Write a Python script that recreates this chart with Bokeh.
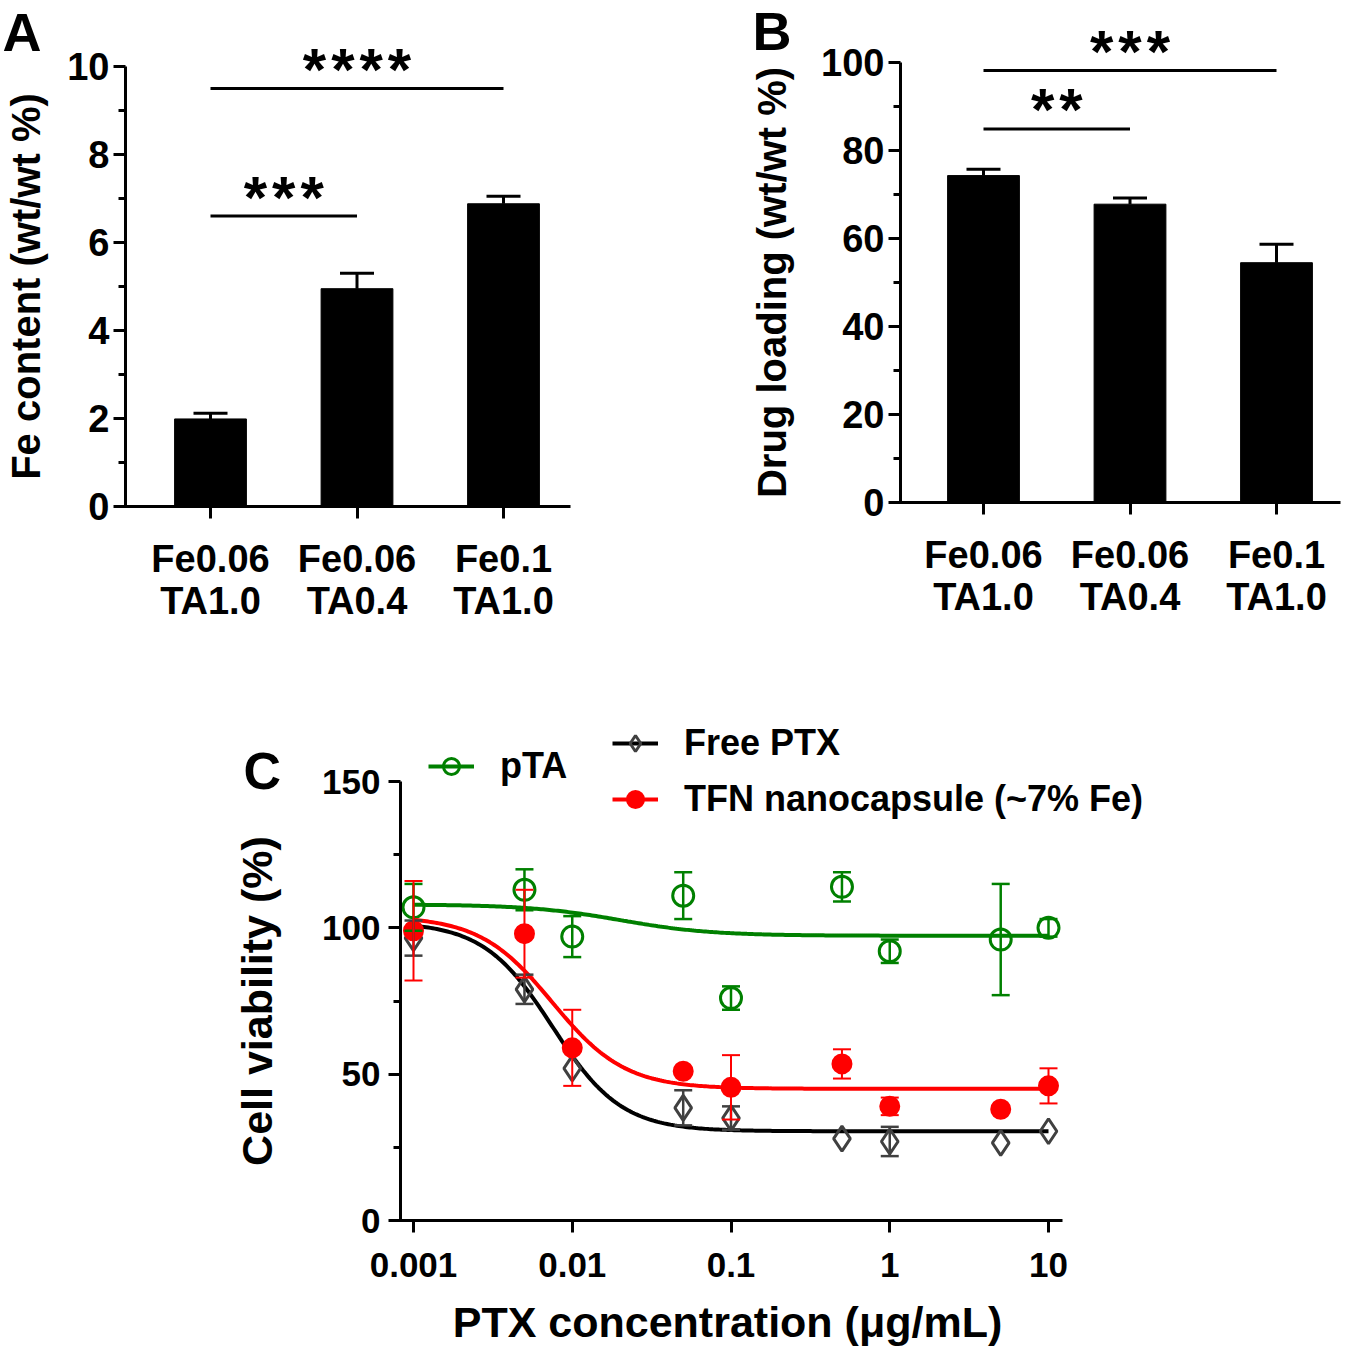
import numpy as np
from bokeh.plotting import figure
from bokeh.models import (Range1d, FixedTicker, ColumnDataSource, Whisker, TeeHead,
                          Label, Legend, LegendItem)
from bokeh.layouts import column, row
from bokeh.embed import file_html
from bokeh.resources import INLINE

FONT = "Liberation Sans"

# ---------------- data ----------------
groups = ["Fe0.06\nTA1.0", "Fe0.06\nTA0.4", "Fe0.1\nTA1.0"]
group_pos = [0, 1, 2]

fe_content = [1.99, 4.95, 6.88]
fe_content_sd = [0.13, 0.35, 0.17]
fe_sig_y = [6.60, 9.50]
fe_sig_start = [0, 0]
fe_sig_end = [1, 2]
fe_sig_text = ["***", "****"]
fe_ticks = [0, 2, 4, 6, 8, 10]
fe_minor = [1, 3, 5, 7, 9]

drug_loading = [74.3, 67.8, 54.5]
drug_loading_sd = [1.45, 1.4, 4.2]
dl_sig_y = [84.9, 98.2]
dl_sig_start = [0, 0]
dl_sig_end = [1, 2]
dl_sig_text = ["**", "***"]
dl_ticks = [0, 20, 40, 60, 80, 100]
dl_minor = [10, 30, 50, 70, 90]

ptx_conc = [0.001, 0.005, 0.01, 0.05, 0.1, 0.5, 1, 5, 10]
pta_viab = [107, 113, 97, 111, 76, 114, 92, 96, 100]
pta_sd = [8, 7, 7, 8, 4, 5, 4, 19, 3]
tfn_viab = [99, 98, 59, 51, 45.5, 53.5, 39, 38, 46]
tfn_sd = [17, 15, 13, 0, 11, 5, 3, 0, 6]
free_viab = [96.5, 79, 52, 38.5, 35, 28, 27, 26.5, 30.5]
free_sd = [6, 5, 0, 6, 4, 0, 5, 0, 0]

# fitted 4-parameter logistic curves: (top, bottom, EC50, Hill slope)
pta_fit = (108, 97.3, 0.02, 1.5)
tfn_fit = (104, 45, 0.0075, 1.9)
free_fit = (102, 30.5, 0.0075, 2.0)

c_xticks = [0.001, 0.01, 0.1, 1, 10]
c_xtick_labels = ["0.001", "0.01", "0.1", "1", "10"]
c_yticks = [0, 50, 100, 150]
c_yminor = [25, 75, 125]

GREEN = "#008000"
RED = "#FF0000"
GREY = "#404040"


# ---------------- page-pixel geometry helpers (layout only) ----------------
def xA(px): return (px - 210) / 146.5
def yA(py): return (506 - py) / 44.0
def xB(px): return (px - 983) / 146.5
def yB(py): return (502 - py) / 4.4
def xC(px): return 10 ** (-3 + (px - 413) / 158.75)
def yC(py): return (1220 - py) / (439 / 150.0)


def style(p, tick_size, label_size):
    for ax in p.axis:
        ax.axis_line_width = 3
        ax.axis_line_color = "black"
        ax.major_tick_line_width = 3
        ax.minor_tick_line_width = 3
        ax.major_tick_in = 0
        ax.major_tick_out = 12
        ax.minor_tick_in = 0
        ax.minor_tick_out = 7
        ax.major_label_text_font = FONT
        ax.major_label_text_font_style = "bold"
        ax.major_label_text_font_size = tick_size
        ax.major_label_text_color = "black"
        ax.axis_label_text_font = FONT
        ax.axis_label_text_font_style = "bold"
        ax.axis_label_text_font_size = label_size
        ax.axis_label_text_color = "black"
    p.grid.visible = False
    p.outline_line_color = None
    p.background_fill_color = "white"
    p.border_fill_color = "white"


def spaced(t):
    return "\u200a".join(list(t))


def make_fig(width, height, xr, yr, **kw):
    return figure(width=width, height=height, output_backend="svg", toolbar_location=None,
                  x_range=Range1d(*xr), y_range=Range1d(*yr),
                  min_border=0, min_border_left=0, min_border_right=0,
                  min_border_top=0, min_border_bottom=0, **kw)


def bar_panel(p, fx, fy, values, sds, ticks, minor, ylabel, sig_y, sig_s, sig_e, sig_t,
              yaxis_px, xaxis_px0, xaxis_px1, ytop, title_standoff, letter, letter_px):
    p.vbar(x=group_pos, top=values, width=0.49, bottom=0, fill_color="black", line_color="black")
    src = ColumnDataSource(dict(x=group_pos, lower=values, upper=[v + s for v, s in zip(values, sds)]))
    p.add_layout(Whisker(source=src, base="x", lower="lower", upper="upper", dimension="height",
                         line_width=3, line_color="black",
                         upper_head=TeeHead(size=34, line_width=3, line_color="black"),
                         lower_head=None))
    p.segment(x0=sig_s, x1=sig_e, y0=sig_y, y1=sig_y, line_width=3, line_color="black")
    for s, e, y, t in zip(sig_s, sig_e, sig_y, sig_t):
        p.add_layout(Label(x=(s + e) / 2, y=y, text=spaced(t), text_align="center",
                           text_baseline="alphabetic", text_font=FONT, text_font_style="bold",
                           text_font_size="60px", text_color="black", y_offset=19))
    style(p, "38px", "40px")
    p.xaxis.fixed_location = 0
    p.xaxis.bounds = (fx(xaxis_px0), fx(xaxis_px1))
    p.xaxis.ticker = FixedTicker(ticks=group_pos)
    p.xaxis.major_label_overrides = {i: g for i, g in zip(group_pos, groups)}
    p.xaxis.major_label_standoff = 19
    p.xaxis.major_label_text_line_height = 1.02
    p.yaxis.fixed_location = fx(yaxis_px)
    p.yaxis.bounds = (0, ytop)
    p.yaxis.ticker = FixedTicker(ticks=ticks, minor_ticks=minor)
    p.yaxis.major_label_standoff = 4
    p.yaxis.axis_label = ylabel
    p.yaxis.axis_label_standoff = title_standoff
    p.add_layout(Label(x=fx(letter_px[0]), y=fy(letter_px[1]), text=letter,
                       text_font=FONT, text_font_style="bold", text_font_size="54px",
                       text_baseline="alphabetic", text_align="left", text_color="black"))
    return p


# ---------------- panel A : figure covers page x 0..740, y 0..648 ----------------
pA = make_fig(740, 648, (xA(0), xA(740)), (yA(648), yA(0)))
bar_panel(pA, xA, yA, fe_content, fe_content_sd, fe_ticks, fe_minor, "Fe content (wt/wt %)",
          fe_sig_y, fe_sig_start, fe_sig_end, fe_sig_text,
          125, 115, 570, 10, 16, "A", (2, 31))

# ---------------- panel B : figure covers page x 740..1344, y 0..648 ----------------
pB = make_fig(604, 648, (xB(740), xB(1344)), (yB(648), yB(0)))
bar_panel(pB, xB, yB, drug_loading, drug_loading_sd, dl_ticks, dl_minor, "Drug loading (wt/wt %)",
          dl_sig_y, dl_sig_start, dl_sig_end, dl_sig_text,
          900, 890, 1340, 100, 24, "B", (752, 30))

# ---------------- panel C : figure covers page x 0..1344, y 648..1346 ----------------
C_TOP, C_BOTTOM = 648, 1346
pC = make_fig(1344, C_BOTTOM - C_TOP, (xC(0), xC(1344)), (yC(C_BOTTOM), yC(C_TOP)),
              x_axis_type="log")

xs = np.logspace(-3, 1, 300)


def logistic(params):
    top, bottom, ec50, hill = params
    return bottom + (top - bottom) / (1 + (xs / ec50) ** hill)


series = [
    (pta_viab, pta_sd, pta_fit, GREEN, GREEN, "circle", 21, None, 2.5),
    (free_viab, free_sd, free_fit, "black", GREY, "diamond", 25, None, 2.5),
    (tfn_viab, tfn_sd, tfn_fit, RED, RED, "circle", 18, RED, 2),
]
renders = []
for vals, sds, fit, lcol, mcol, marker, size, fill, ewidth in series:
    line = pC.line(xs, logistic(fit), line_width=4, line_color=lcol)
    keep = [i for i, s in enumerate(sds) if s > 0]
    src = ColumnDataSource(dict(x=[ptx_conc[i] for i in keep],
                                lower=[vals[i] - sds[i] for i in keep],
                                upper=[vals[i] + sds[i] for i in keep]))
    pC.add_layout(Whisker(source=src, base="x", lower="lower", upper="upper", dimension="height",
                          line_width=ewidth, line_color=mcol, level="glyph",
                          upper_head=TeeHead(size=18, line_width=ewidth, line_color=mcol),
                          lower_head=TeeHead(size=18, line_width=ewidth, line_color=mcol)))
    pts = pC.scatter(ptx_conc, vals, marker=marker, size=size, line_color=mcol,
                     fill_color=fill, line_width=3)
    renders.append((line, pts))

style(pC, "35px", "43px")
pC.xaxis.fixed_location = 0
pC.xaxis.bounds = (xC(392), xC(1062))
pC.xaxis.ticker = FixedTicker(ticks=c_xticks, minor_ticks=[])
pC.xaxis.major_label_standoff = 20
pC.xaxis.major_label_overrides = {v: t for v, t in zip(c_xticks, c_xtick_labels)}
pC.xaxis.axis_label = "PTX concentration (\u03bcg/mL)"
pC.xaxis.axis_label_standoff = 18
pC.yaxis.fixed_location = xC(400)
pC.yaxis.bounds = (0, 150)
pC.yaxis.ticker = FixedTicker(ticks=c_yticks, minor_ticks=c_yminor)
pC.yaxis.major_label_standoff = 8
pC.yaxis.axis_label = "Cell viability (%)"
pC.yaxis.axis_label_standoff = 38


def legend(items, loc):
    lg = Legend(items=items, location=loc, padding=0, margin=0, spacing=14,
                glyph_width=46, glyph_height=40, label_height=40, label_standoff=26,
                label_text_font=FONT, label_text_font_style="bold", label_text_font_size="36px",
                label_text_color="black", border_line_color=None, background_fill_alpha=0)
    pC.add_layout(lg)


# legend locations: pixels from the figure's bottom-left corner
legend([LegendItem(label="pTA", renderers=list(renders[0]))], (428, C_BOTTOM - 787))
legend([LegendItem(label="Free PTX", renderers=list(renders[1])),
        LegendItem(label="TFN nanocapsule (~7% Fe)", renderers=list(renders[2]))],
       (612, C_BOTTOM - 820))

pC.add_layout(Label(x=xC(243), y=yC(770), text="C",
                    text_font=FONT, text_font_style="bold", text_font_size="52px",
                    text_baseline="alphabetic", text_align="left", text_color="black"))

layout = column(row(pA, pB), pC)
open("out.html", "w").write(file_html(layout, INLINE))
